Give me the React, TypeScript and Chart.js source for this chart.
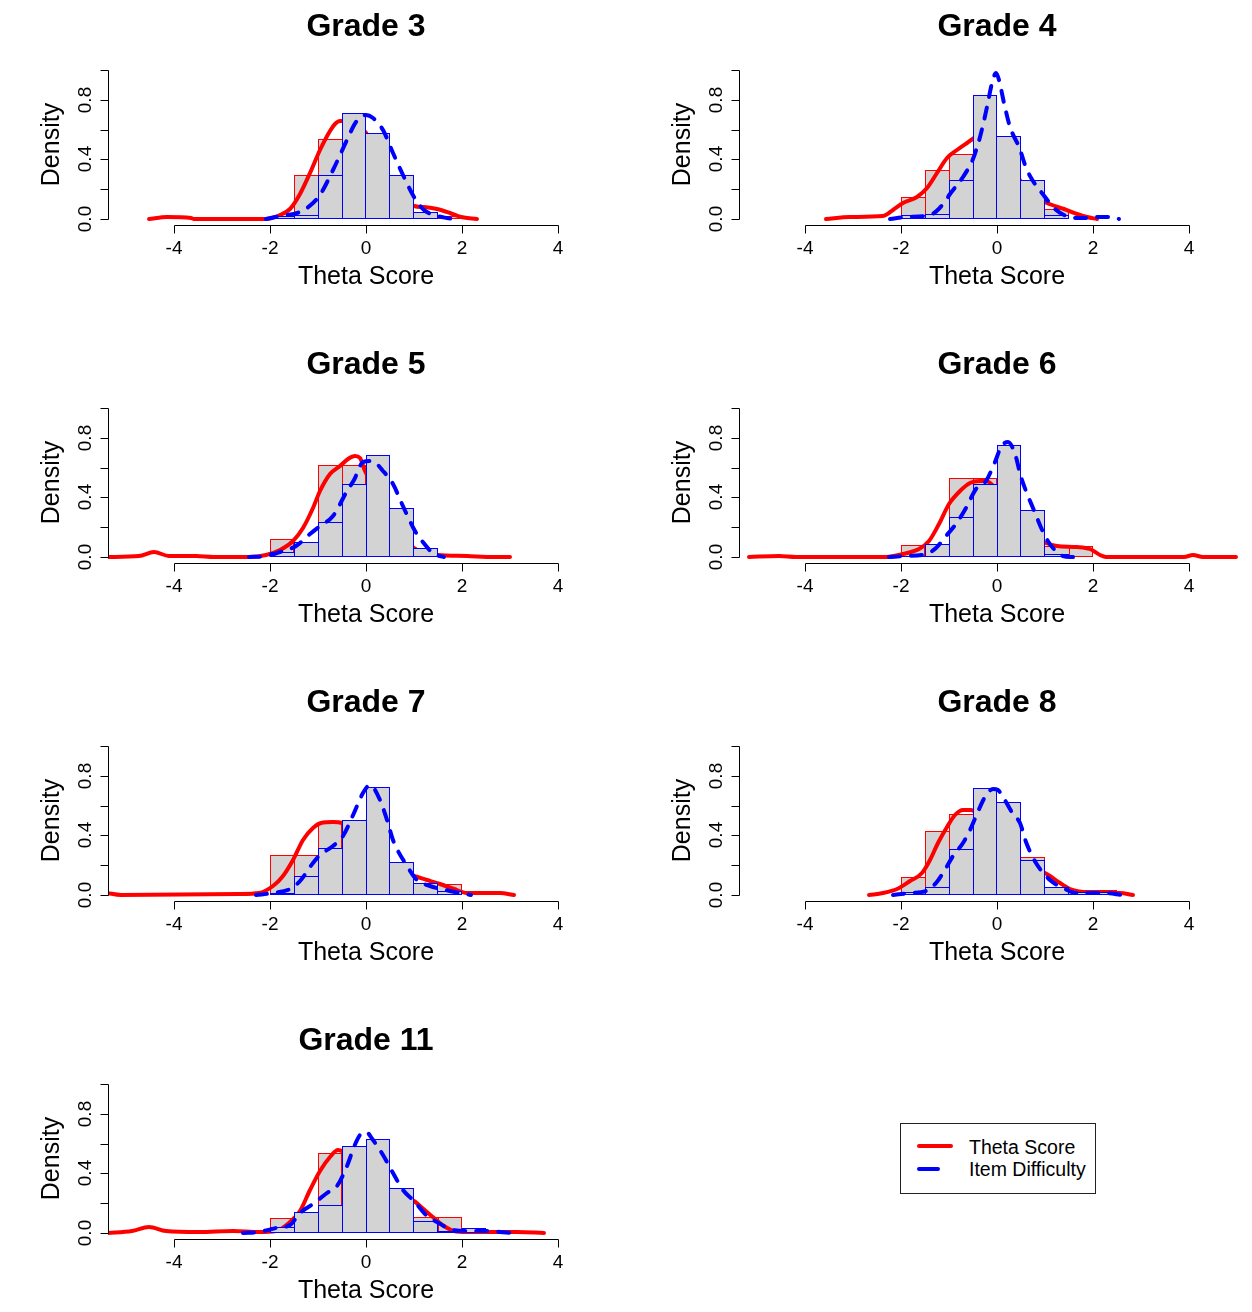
import React, { useEffect, useRef } from "react";
import { Chart, registerables } from "chart.js";

Chart.register(...registerables);

// ---------- shared axis data ----------
const BIN_LEFTS = [-2, -1.5, -1, -0.5, 0, 0.5, 1, 1.5, 2];
const BIN_WIDTH = 0.5;
const X_TICKS = [-4, -2, 0, 2, 4];
const X_TICK_LABELS = ["-4", "-2", "0", "2", "4"];
const Y_TICKS = [0, 0.2, 0.4, 0.6, 0.8, 1.0];
const Y_TICK_LABELS = ["0.0", "", "0.4", "", "0.8", ""];
const X_LIMITS = [-5.375, 5.375];
const Y_LIMITS = [-0.04, 1.04];
const X_TITLE = "Theta Score";
const Y_TITLE = "Density";
const LEGEND_LABELS = ["Theta Score", "Item Difficulty"];

// ---------- Grade 3 ----------
const g3ThetaHist = [0.02, 0.295, 0.534, 0.64, 0.5, 0.2, 0.05, 0.02, null];
const g3ItemHist = [0.02, 0.03, 0.295, 0.709, 0.579, 0.295, 0.049, null, null];
const g3ThetaX = [-4.52, -4.14, -3.65, -3.58, -2.08, -1.8, -1.59, -1.38, -1.17, -0.96, -0.75, -0.65, -0.54, -0.3, 0, 0.25, 0.5, 0.75, 0.99, 1.2, 1.48, 1.76, 1.97, 2.32];
const g3ThetaY = [0, 0.016, 0.01, 0, 0, 0.027, 0.07, 0.17, 0.31, 0.46, 0.59, 0.64, 0.66, 0.66, 0.58, 0.42, 0.27, 0.17, 0.09, 0.083, 0.07, 0.038, 0.011, 0];
const g3ItemX = [-2.08, -1.8, -1.38, -1.1, -0.96, -0.68, -0.4, -0.2, 0.01, 0.15, 0.36, 0.57, 0.78, 0.99, 1.2, 1.41, 1.69, 1.83];
const g3ItemY = [0, 0.02, 0.05, 0.105, 0.16, 0.33, 0.53, 0.65, 0.7, 0.675, 0.6, 0.44, 0.295, 0.15, 0.06, 0.027, 0.005, 0];

// ---------- Grade 4 ----------
const g4ThetaHist = [0.145, 0.329, 0.434, 0.5, 0.35, 0.15, 0.065, null, null];
const g4ItemHist = [0.027, 0.034, 0.262, 0.832, 0.557, 0.262, 0.027, null, null];
const g4ThetaX = [-3.56, -3.07, -2.37, -2.16, -1.95, -1.67, -1.46, -1.26, -1.05, -0.84, -0.63, -0.44, -0.25, 0, 0.25, 0.5, 0.75, 1.05, 1.39, 1.67, 1.88, 2.09];
const g4ThetaY = [0, 0.016, 0.02, 0.06, 0.105, 0.15, 0.206, 0.306, 0.41, 0.46, 0.51, 0.55, 0.56, 0.5, 0.4, 0.25, 0.16, 0.105, 0.065, 0.034, 0.011, 0];
const g4ItemX = [-2.23, -1.87, -1.39, -1.1, -0.98, -0.7, -0.49, -0.35, -0.21, -0.1, -0.03, 0.035, 0.14, 0.28, 0.45, 0.63, 0.99, 1.2, 1.39, 1.67, 1.9, 2.1, 2.4, 2.55];
const g4ItemY = [0, 0.016, 0.027, 0.105, 0.17, 0.28, 0.4, 0.55, 0.75, 0.91, 0.977, 0.93, 0.776, 0.62, 0.485, 0.33, 0.15, 0.07, 0.027, 0.005, 0.01, 0.016, 0.012, 0];

// ---------- Grade 5 ----------
const g5ThetaHist = [0.119, 0.1, 0.619, 0.619, 0.45, 0.15, 0.03, null, null];
const g5ItemHist = [0.036, 0.103, 0.235, 0.489, 0.686, 0.332, 0.063, null, null];
const g5ThetaX = [-5.39, -4.73, -4.41, -4.1, -3.54, -3.16, -2.43, -2.08, -1.8, -1.52, -1.31, -1.1, -0.96, -0.75, -0.54, -0.37, -0.23, -0.13, -0.02, 0.25, 0.5, 0.75, 1.0, 1.25, 1.51, 2.1, 2.66, 3.0];
const g5ThetaY = [0, 0.007, 0.034, 0.007, 0.007, 0, 0, 0.013, 0.05, 0.108, 0.197, 0.33, 0.44, 0.556, 0.612, 0.657, 0.68, 0.664, 0.578, 0.42, 0.28, 0.15, 0.06, 0.03, 0.013, 0.007, 0, 0];
const g5ItemX = [-2.43, -2.08, -1.73, -1.45, -1.17, -0.96, -0.68, -0.4, -0.26, -0.06, 0.12, 0.36, 0.57, 0.75, 1.03, 1.16, 1.41, 1.62];
const g5ItemY = [0, 0.007, 0.04, 0.074, 0.152, 0.208, 0.276, 0.444, 0.52, 0.635, 0.646, 0.578, 0.489, 0.354, 0.175, 0.108, 0.018, 0];

// ---------- Grade 6 ----------
const g6ThetaHist = [0.081, 0.07, 0.529, 0.529, 0.35, 0.2, 0.074, 0.074, null];
const g6ItemHist = [0.007, 0.09, 0.269, 0.493, 0.751, 0.314, 0.018, null, null];
const g6ThetaX = [-5.17, -4.54, -4.19, -2.31, -1.96, -1.62, -1.41, -1.2, -0.99, -0.78, -0.57, -0.36, -0.22, 0, 0.25, 0.5, 0.75, 1.03, 1.24, 1.66, 1.94, 2.14, 2.28, 3.89, 4.09, 4.3, 4.97];
const g6ThetaY = [0, 0.007, 0, 0, 0.018, 0.052, 0.108, 0.22, 0.354, 0.444, 0.5, 0.511, 0.511, 0.45, 0.35, 0.25, 0.14, 0.096, 0.074, 0.067, 0.052, 0.013, 0, 0, 0.011, 0, 0];
const g6ItemX = [-2.24, -1.89, -1.48, -1.27, -1.06, -0.85, -0.64, -0.43, -0.22, -0.05, 0.09, 0.23, 0.37, 0.51, 0.61, 0.75, 1.0, 1.17, 1.38, 1.59];
const g6ItemY = [0, 0.007, 0.018, 0.063, 0.141, 0.22, 0.332, 0.455, 0.511, 0.635, 0.735, 0.769, 0.69, 0.534, 0.444, 0.332, 0.141, 0.063, 0.007, 0];

// ---------- Grade 7 ----------
const g7ThetaHist = [0.271, 0.271, 0.493, 0.45, 0.3, 0.15, 0.08, 0.071, null];
const g7ItemHist = [0.016, 0.131, 0.316, 0.504, 0.722, 0.222, 0.082, 0.027, null];
const g7ThetaX = [-5.39, -5.11, -2.64, -2.22, -1.94, -1.73, -1.52, -1.31, -1.1, -0.93, -0.68, -0.51, -0.25, 0, 0.25, 0.5, 0.75, 0.99, 1.27, 1.55, 1.83, 2.11, 2.8, 3.08];
const g7ThetaY = [0.011, 0, 0.004, 0.016, 0.06, 0.127, 0.238, 0.371, 0.449, 0.482, 0.487, 0.482, 0.42, 0.35, 0.27, 0.19, 0.15, 0.127, 0.104, 0.071, 0.038, 0.016, 0.011, 0];
const g7ItemX = [-2.29, -1.94, -1.59, -1.38, -1.1, -0.96, -0.68, -0.47, -0.26, -0.06, 0.08, 0.29, 0.43, 0.57, 0.85, 1.06, 1.34, 1.76, 2.18];
const g7ItemY = [0, 0.016, 0.038, 0.093, 0.216, 0.271, 0.327, 0.393, 0.549, 0.682, 0.738, 0.638, 0.504, 0.371, 0.193, 0.104, 0.06, 0.027, 0];

// ---------- Grade 8 ----------
const g8ThetaHist = [0.119, 0.429, 0.542, 0.55, 0.35, 0.254, 0.04, 0.033, 0.033];
const g8ItemHist = [0.02, 0.053, 0.31, 0.719, 0.622, 0.232, 0.053, 0.02, 0.02];
const g8ThetaX = [-2.66, -2.38, -2.09, -1.81, -1.57, -1.39, -1.22, -1.04, -0.88, -0.71, -0.54, -0.25, 0, 0.25, 0.5, 0.75, 1.0, 1.1, 1.31, 1.52, 1.8, 2.21, 2.56, 2.84];
const g8ThetaY = [0, 0.011, 0.038, 0.093, 0.148, 0.237, 0.347, 0.458, 0.535, 0.573, 0.569, 0.5, 0.42, 0.33, 0.22, 0.18, 0.15, 0.126, 0.082, 0.038, 0.02, 0.015, 0.011, 0];
const g8ItemX = [-2.17, -1.82, -1.48, -1.27, -1.06, -0.92, -0.71, -0.57, -0.36, -0.26, -0.08, 0.02, 0.13, 0.33, 0.47, 0.61, 0.82, 1.1, 1.38, 1.66, 1.94, 2.21, 2.63];
const g8ItemY = [0, 0.011, 0.027, 0.082, 0.181, 0.259, 0.347, 0.436, 0.591, 0.657, 0.712, 0.706, 0.657, 0.546, 0.48, 0.358, 0.215, 0.104, 0.049, 0.015, 0.011, 0.011, 0];

// ---------- Grade 11 ----------
const g11ThetaHist = [0.1, 0.12, 0.54, 0.5, 0.45, 0.25, 0.11, 0.11, null];
const g11ItemHist = [0.038, 0.142, 0.186, 0.584, 0.628, 0.303, 0.082, 0.015, 0.033];
const g11ThetaX = [-5.39, -4.87, -4.52, -4.17, -3.47, -2.78, -2.22, -1.87, -1.59, -1.38, -1.17, -0.96, -0.75, -0.58, -0.25, 0, 0.25, 0.5, 0.75, 1.0, 1.13, 1.41, 1.62, 1.83, 2.1, 2.8, 3.15, 3.71];
const g11ThetaY = [0, 0.015, 0.038, 0.015, 0.009, 0.015, 0.004, 0.015, 0.071, 0.148, 0.292, 0.414, 0.513, 0.558, 0.5, 0.42, 0.35, 0.29, 0.25, 0.215, 0.181, 0.104, 0.049, 0.015, 0.004, 0.009, 0.004, 0];
const g11ItemX = [-2.57, -2.22, -1.87, -1.59, -1.38, -1.1, -0.82, -0.61, -0.4, -0.26, -0.13, 0.01, 0.15, 0.36, 0.57, 0.78, 0.99, 1.27, 1.48, 1.76, 2.1, 2.45, 2.8, 3.08];
const g11ItemY = [0, 0.009, 0.031, 0.053, 0.137, 0.192, 0.27, 0.314, 0.447, 0.58, 0.657, 0.679, 0.624, 0.524, 0.403, 0.292, 0.215, 0.115, 0.071, 0.027, 0.015, 0.015, 0.004, 0];

const PANELS = [
  { title: "Grade 3", col: 0, row: 0, thetaHist: g3ThetaHist, itemHist: g3ItemHist, thetaX: g3ThetaX, thetaY: g3ThetaY, itemX: g3ItemX, itemY: g3ItemY },
  { title: "Grade 4", col: 1, row: 0, thetaHist: g4ThetaHist, itemHist: g4ItemHist, thetaX: g4ThetaX, thetaY: g4ThetaY, itemX: g4ItemX, itemY: g4ItemY },
  { title: "Grade 5", col: 0, row: 1, thetaHist: g5ThetaHist, itemHist: g5ItemHist, thetaX: g5ThetaX, thetaY: g5ThetaY, itemX: g5ItemX, itemY: g5ItemY },
  { title: "Grade 6", col: 1, row: 1, thetaHist: g6ThetaHist, itemHist: g6ItemHist, thetaX: g6ThetaX, thetaY: g6ThetaY, itemX: g6ItemX, itemY: g6ItemY },
  { title: "Grade 7", col: 0, row: 2, thetaHist: g7ThetaHist, itemHist: g7ItemHist, thetaX: g7ThetaX, thetaY: g7ThetaY, itemX: g7ItemX, itemY: g7ItemY },
  { title: "Grade 8", col: 1, row: 2, thetaHist: g8ThetaHist, itemHist: g8ItemHist, thetaX: g8ThetaX, thetaY: g8ThetaY, itemX: g8ItemX, itemY: g8ItemY },
  { title: "Grade 11", col: 0, row: 3, thetaHist: g11ThetaHist, itemHist: g11ItemHist, thetaX: g11ThetaX, thetaY: g11ThetaY, itemX: g11ItemX, itemY: g11ItemY },
];

// ---------- styling / layout ----------
const FONT = '"Liberation Sans", Arial, Helvetica, sans-serif';
const RED = "#FF0000";
const BLUE = "#0000FF";
const GREY = "#D3D3D3";
const CANVAS_W = 631;
const CANVAS_H = 338;
const COL_X = [0, 631];
const ROW_H = 338;
const PAD = { left: 108, right: 7, top: 64, bottom: 113 };

type Pt = { x: number; y: number };

function histPoints(vals: (number | null)[]): Pt[] {
  const pts: Pt[] = [];
  BIN_LEFTS.forEach((l, i) => {
    const v = vals[i];
    if (v !== null && v !== undefined) pts.push({ x: l + BIN_WIDTH / 2, y: v });
  });
  return pts;
}

function curvePoints(xs: number[], ys: number[]): Pt[] {
  return xs.map((x, i) => ({ x, y: ys[i] }));
}

function sideBorders(points: Pt[]) {
  return (c: any) => {
    const i = c.dataIndex;
    const p = points[i];
    if (!p) return 1;
    const prev = points[i - 1];
    const next = points[i + 1];
    const pv = prev && Math.abs(p.x - prev.x - BIN_WIDTH) < 1e-6 ? prev.y : null;
    const nv = next && Math.abs(next.x - p.x - BIN_WIDTH) < 1e-6 ? next.y : null;
    return {
      top: 1,
      bottom: 1,
      left: pv === null || pv <= p.y ? 1 : 0,
      right: nv === null || nv < p.y ? 1 : 0,
    };
  };
}

function makeRAxes(title: string) {
  return {
    id: "rAxes",
    afterDraw(chart: any) {
      const { ctx, chartArea, scales } = chart;
      const xs = scales.x;
      const ys = scales.y;
      ctx.save();
      ctx.strokeStyle = "#000";
      ctx.fillStyle = "#000";
      ctx.lineWidth = 1;

      // x axis (R style: line spans first..last tick, at plot-region bottom)
      const ay = Math.round(chartArea.bottom) + 0.5;
      ctx.beginPath();
      ctx.moveTo(Math.round(xs.getPixelForValue(X_TICKS[0])) + 0.5, ay);
      ctx.lineTo(Math.round(xs.getPixelForValue(X_TICKS[X_TICKS.length - 1])) + 0.5, ay);
      X_TICKS.forEach((v) => {
        const px = Math.round(xs.getPixelForValue(v)) + 0.5;
        ctx.moveTo(px, ay);
        ctx.lineTo(px, ay + 8);
      });
      ctx.stroke();
      ctx.textAlign = "center";
      ctx.textBaseline = "alphabetic";
      ctx.font = `19px ${FONT}`;
      X_TICKS.forEach((v, i) => {
        ctx.fillText(X_TICK_LABELS[i], xs.getPixelForValue(v), ay + 28);
      });
      const cx = (chartArea.left + chartArea.right) / 2;
      ctx.font = `25px ${FONT}`;
      ctx.fillText(X_TITLE, cx, ay + 58);

      // y axis
      const ax = Math.round(chartArea.left) + 0.5;
      ctx.beginPath();
      ctx.moveTo(ax, Math.round(ys.getPixelForValue(Y_TICKS[0])) + 0.5);
      ctx.lineTo(ax, Math.round(ys.getPixelForValue(Y_TICKS[Y_TICKS.length - 1])) + 0.5);
      Y_TICKS.forEach((v) => {
        const py = Math.round(ys.getPixelForValue(v)) + 0.5;
        ctx.moveTo(ax, py);
        ctx.lineTo(ax - 8, py);
      });
      ctx.stroke();
      ctx.font = `19px ${FONT}`;
      Y_TICKS.forEach((v, i) => {
        const lab = Y_TICK_LABELS[i];
        if (!lab) return;
        ctx.save();
        ctx.translate(chartArea.left - 17, ys.getPixelForValue(v));
        ctx.rotate(-Math.PI / 2);
        ctx.fillText(lab, 0, 0);
        ctx.restore();
      });
      ctx.save();
      ctx.font = `25px ${FONT}`;
      ctx.translate(chartArea.left - 49, (chartArea.top + chartArea.bottom) / 2);
      ctx.rotate(-Math.PI / 2);
      ctx.fillText(Y_TITLE, 0, 0);
      ctx.restore();

      // main title
      ctx.font = `bold 32px ${FONT}`;
      ctx.fillText(title, cx, chartArea.top - 28);
      ctx.restore();
    },
  };
}

function Panel({ p }: { p: (typeof PANELS)[number] }) {
  const ref = useRef<HTMLCanvasElement | null>(null);
  useEffect(() => {
    if (!ref.current) return;
    const thetaBars = histPoints(p.thetaHist);
    const itemBars = histPoints(p.itemHist);
    const barCommon = {
      type: "bar" as const,
      grouped: false,
      barPercentage: 1,
      categoryPercentage: 1,
      borderSkipped: false,
      inflateAmount: 0,
      backgroundColor: GREY,
    };
    const chart = new Chart(ref.current, {
      type: "bar",
      data: {
        datasets: [
          { ...barCommon, label: "theta hist", data: thetaBars, borderColor: RED, borderWidth: sideBorders(thetaBars), order: 4 } as any,
          {
            type: "line",
            label: LEGEND_LABELS[0],
            data: curvePoints(p.thetaX, p.thetaY),
            borderColor: RED,
            borderWidth: 4,
            pointRadius: 0,
            fill: false,
            cubicInterpolationMode: "monotone",
            borderCapStyle: "round",
            borderJoinStyle: "round",
            order: 3,
          } as any,
          { ...barCommon, label: "item hist", data: itemBars, borderColor: BLUE, borderWidth: sideBorders(itemBars), order: 2 } as any,
          {
            type: "line",
            label: LEGEND_LABELS[1],
            data: curvePoints(p.itemX, p.itemY),
            borderColor: BLUE,
            borderWidth: 4,
            borderDash: [11, 11],
            pointRadius: 0,
            fill: false,
            cubicInterpolationMode: "monotone",
            borderCapStyle: "round",
            borderJoinStyle: "round",
            order: 1,
          } as any,
        ],
      },
      options: {
        responsive: false,
        animation: false,
        devicePixelRatio: 1,
        events: [],
        layout: { padding: PAD },
        plugins: {
          legend: { display: false },
          tooltip: { enabled: false },
          title: { display: false },
        },
        scales: {
          x: { type: "linear", min: X_LIMITS[0], max: X_LIMITS[1], display: false, offset: false, alignToPixels: true, grid: { offset: false } },
          y: { type: "linear", min: Y_LIMITS[0], max: Y_LIMITS[1], display: false, alignToPixels: true },
        },
      } as any,
      plugins: [makeRAxes(p.title)],
    });
    return () => chart.destroy();
  }, [p]);
  return (
    <div style={{ position: "absolute", left: COL_X[p.col], top: p.row * ROW_H, width: CANVAS_W, height: CANVAS_H }}>
      <canvas ref={ref} width={CANVAS_W} height={CANVAS_H} style={{ display: "block", width: CANVAS_W, height: CANVAS_H }} />
    </div>
  );
}

function Legend() {
  const text: React.CSSProperties = {
    position: "absolute",
    left: 969,
    fontFamily: FONT,
    fontSize: 19.5,
    lineHeight: "22px",
    color: "#000",
    whiteSpace: "nowrap",
  };
  return (
    <>
      <div style={{ position: "absolute", left: 900, top: 1123, width: 196, height: 71, boxSizing: "border-box", border: "1px solid #222", background: "#fff" }} />
      <div style={{ position: "absolute", left: 917, top: 1144, width: 36, height: 4, background: RED, borderRadius: 2 }} />
      <div style={{ position: "absolute", left: 917, top: 1167, width: 23, height: 4, background: BLUE, borderRadius: 2 }} />
      <div style={{ ...text, top: 1136 }}>{LEGEND_LABELS[0]}</div>
      <div style={{ ...text, top: 1158 }}>{LEGEND_LABELS[1]}</div>
    </>
  );
}

export default function App() {
  return (
    <div style={{ position: "absolute", left: 0, top: 0, width: 1252, height: 1312, overflow: "hidden", background: "#fff" }}>
      {PANELS.map((p) => (
        <Panel key={p.title} p={p} />
      ))}
      <Legend />
    </div>
  );
}
